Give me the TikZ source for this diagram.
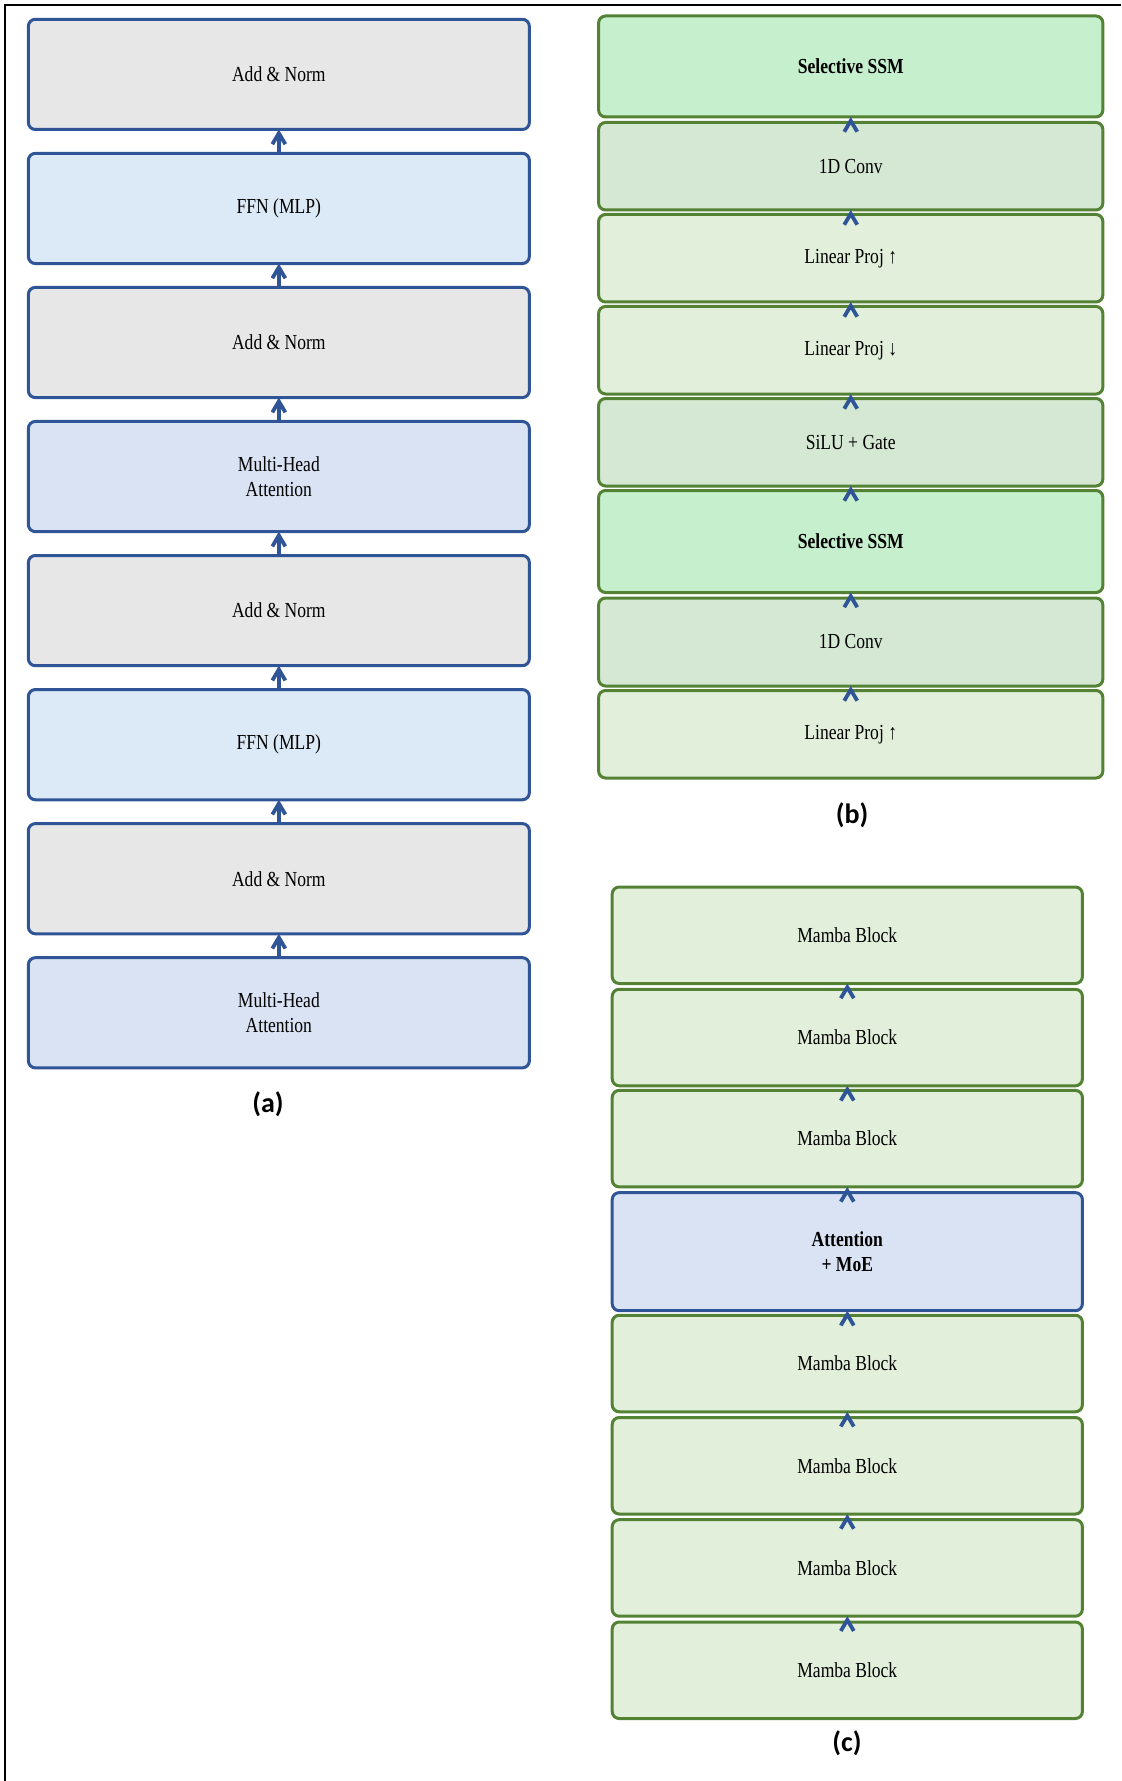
\documentclass[tikz,border=0pt]{standalone}
\usepackage{fontspec}
\usetikzlibrary{arrows.meta}
\newfontfamily\boxfont[FakeStretch=0.82]{Liberation Serif}
\newfontfamily\labfont{Carlito}
\definecolor{bblue}{RGB}{47,85,151}
\definecolor{bgreen}{RGB}{84,130,53}
\definecolor{fgray}{RGB}{231,231,231}
\definecolor{fffn}{RGB}{220,233,246}
\definecolor{fatt}{RGB}{218,227,243}
\definecolor{fssm}{RGB}{198,239,206}
\definecolor{fconv}{RGB}{213,232,212}
\definecolor{flin}{RGB}{226,239,218}
\tikzset{
  blk/.style={draw, line width=1.5pt, rounded corners=3.5pt, inner sep=0pt, outer sep=0pt,
    font=\boxfont\fontsize{10.7pt}{12.2pt}\selectfont, align=center},
  lbox/.style={blk, draw=bblue, minimum width=250.5pt, minimum height=55.1pt},
  bbox/.style={blk, draw=bgreen, minimum width=252.15pt},
  cbox/.style={blk, draw=bgreen, minimum width=235.1pt, minimum height=48.25pt, fill=flin},
  arr/.style={draw=bblue, line width=1.9pt, -{Straight Barb[length=5.5pt,width=6.5pt]}},
  lab/.style={font=\labfont\bfseries\fontsize{14pt}{16pt}\selectfont}
}
\begin{document}
\begin{tikzpicture}[x=0.5pt,y=-0.5pt]
\useasboundingbox (0,0) rectangle (1121,1781);
\draw[line width=1pt] (5,1781) -- (5,5) -- (1121,5);
% (a)
\node[lbox, fill=fgray] (l1) at (278.85,74.4) {Add \& Norm};
\node[lbox, fill=fffn]  (l2) at (278.85,208.45) {FFN (MLP)};
\node[lbox, fill=fgray] (l3) at (278.85,342.5) {Add \& Norm};
\node[lbox, fill=fatt]  (l4) at (278.85,476.55) {Multi-Head\\Attention};
\node[lbox, fill=fgray] (l5) at (278.85,610.6) {Add \& Norm};
\node[lbox, fill=fffn]  (l6) at (278.85,744.65) {FFN (MLP)};
\node[lbox, fill=fgray] (l7) at (278.85,878.7) {Add \& Norm};
\node[lbox, fill=fatt]  (l8) at (278.85,1012.75) {Multi-Head\\Attention};
\node[lab] (la) at (268,1104) {(a)};
% (b)
\node[bbox, fill=fssm, minimum height=50.5pt] (b1) at (850.75,66.5) {\bfseries Selective SSM};
\node[bbox, fill=fconv, minimum height=43.75pt] (b2) at (850.75,166.25) {1D Conv};
\node[bbox, fill=flin, minimum height=43.75pt] (b3) at (850.75,258.25) {Linear Proj ↑};
\node[bbox, fill=flin, minimum height=43.75pt] (b4) at (850.75,350.25) {Linear Proj ↓};
\node[bbox, fill=fconv, minimum height=43.75pt] (b5) at (850.75,442.25) {SiLU + Gate};
\node[bbox, fill=fssm, minimum height=51pt] (b6) at (850.75,541.5) {\bfseries Selective SSM};
\node[bbox, fill=fconv, minimum height=44pt] (b7) at (850.75,642) {1D Conv};
\node[bbox, fill=flin, minimum height=43.75pt] (b8) at (850.75,734.25) {Linear Proj ↑};
\node[lab] (lb) at (852,815) {(b)};
% (c)
\node[cbox] (c1) at (847.3,935.25) {Mamba Block};
\node[cbox] (c2) at (847.3,1037.55) {Mamba Block};
\node[cbox] (c3) at (847.3,1138.65) {Mamba Block};
\node[blk, draw=bblue, fill=fatt, minimum width=235.1pt, minimum height=59.05pt] (c4) at (847.3,1251.65) {\bfseries Attention\\\bfseries + MoE};
\node[cbox] (c5) at (847.3,1363.5) {Mamba Block};
\node[cbox] (c6) at (847.3,1465.75) {Mamba Block};
\node[cbox] (c7) at (847.3,1567.95) {Mamba Block};
\node[cbox] (c8) at (847.3,1670.25) {Mamba Block};
\node[lab] (lc) at (847,1743) {(c)};
% arrows
\foreach \lo/\hi in {l8/l7,l7/l6,l6/l5,l5/l4,l4/l3,l3/l2,l2/l1,
  b8/b7,b7/b6,b6/b5,b5/b4,b4/b3,b3/b2,b2/b1,
  c8/c7,c7/c6,c6/c5,c5/c4,c4/c3,c3/c2,c2/c1}
  \draw[arr] (\lo) -- (\hi);
\end{tikzpicture}
\end{document}
